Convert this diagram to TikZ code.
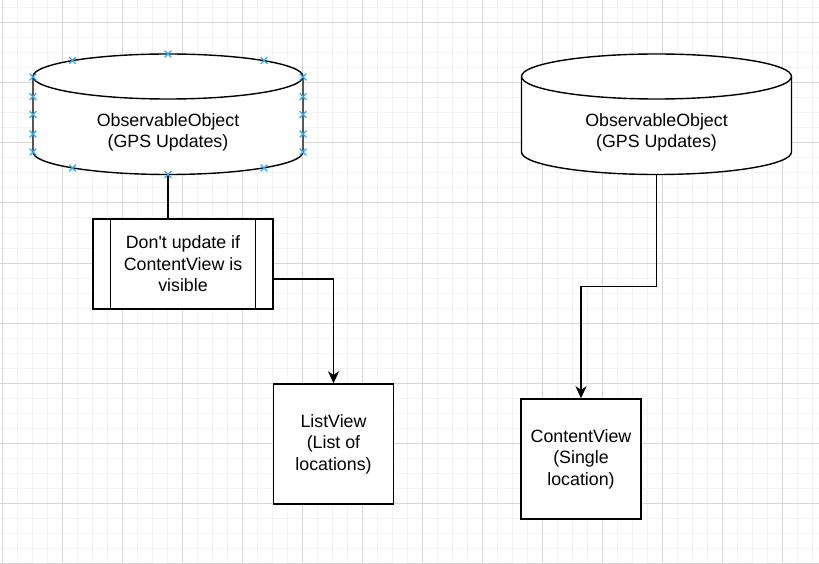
\documentclass[tikz,border=0pt]{standalone}
\usepackage{fontspec}
\setmainfont{Liberation Sans}[Ligatures=TeXOff]
\usetikzlibrary{arrows.meta,calc}
\definecolor{gridminor}{RGB}{243,243,243}
\definecolor{gridmajor}{RGB}{214,214,214}
\definecolor{markblue}{RGB}{45,170,240}
\tikzset{
  line/.style={line width=1.4pt, draw=black},
  arrowline/.style={line, -{Stealth[length=12pt, width=11pt, inset=3.5pt]}},
  lbl/.style={align=center, font=\fontsize{17.8}{21}\selectfont, inner sep=0pt},
  box/.style={line, fill=white, rectangle, minimum width=#1, minimum height=#1, align=center, font=\fontsize{17.8}{21.5}\selectfont, inner sep=0pt},
  procbox/.style={line, fill=white, rectangle, minimum width=180, minimum height=90, align=center, font=\fontsize{17.8}{21.5}\selectfont, inner sep=0pt},
  mk/.style={draw=markblue, line width=1.3pt},
  dbcyl/.pic={
    \draw[line, fill=white] (-135,0) -- (-135,75.5)
      .. controls (-135,87.93) and (-74.56,98) .. (0,98)
      .. controls (74.56,98) and (135,87.93) .. (135,75.5)
      -- (135,0)
      .. controls (135,-12.43) and (74.56,-22.5) .. (0,-22.5)
      .. controls (-74.56,-22.5) and (-135,-12.43) .. (-135,0) -- cycle;
    \draw[line] (-135,0) .. controls (-135,12.43) and (-74.56,22.5) .. (0,22.5)
      .. controls (74.56,22.5) and (135,12.43) .. (135,0);
  }
}
\newcommand{\xmark}[2]{\draw[mk] (#1-3.3,#2-3.3) -- (#1+3.3,#2+3.3) (#1-3.3,#2+3.3) -- (#1+3.3,#2-3.3);}
\begin{document}
\begin{tikzpicture}[x=1pt, y=-1pt]
\useasboundingbox (0,0) rectangle (819,564);
\fill[white] (0,0) rectangle (819,564);
% grid
\foreach \i in {0,...,54} { \draw[gridminor, line width=1pt] ({2+15*\i},0) -- ({2+15*\i},564); }
\foreach \j in {0,...,37} { \draw[gridminor, line width=1pt] (0,{8+15*\j}) -- (819,{8+15*\j}); }
\foreach \i in {0,...,13} { \draw[gridmajor, line width=1pt] ({2+60*\i},0) -- ({2+60*\i},564); }
\foreach \j in {0,...,9} { \draw[gridmajor, line width=1pt] (0,{23+60*\j}) -- (819,{23+60*\j}); }

% cylinders
\pic at (168,76.5) {dbcyl};
\pic at (656.5,76.5) {dbcyl};
\node[lbl] (obsL) at (168,132.5) {ObservableObject\\(GPS Updates)};
\node[lbl] (obsR) at (656.5,132.5) {ObservableObject\\(GPS Updates)};
\coordinate (obsLb) at (168,174.5);
\coordinate (obsRb) at (656.5,174.5);

% boxes
\node[procbox] (proc) at (183,264) {Don't update if\\ContentView is\\visible};
\draw[line] ([xshift=18pt]proc.north west) -- ([xshift=18pt]proc.south west);
\draw[line] ([xshift=-18pt]proc.north east) -- ([xshift=-18pt]proc.south east);
\node[box=120] (list) at (333.5,444) {ListView\\(List of\\locations)};
\node[box=120] (content) at (581,459) {ContentView\\(Single\\location)};

% connectors
\draw[line] (obsLb) -- (obsLb |- proc.north);
\draw[arrowline] ([yshift=-15pt]proc.east) -| (list.north);
\coordinate (m) at ($(obsRb)!0.5!(content.north)$);
\draw[arrowline] (obsRb) -- (obsRb |- m) -- (content.north |- m) -- (content.north);

% selection markers
\xmark{168}{54}\xmark{72.5}{60.5}\xmark{264}{60.5}
\xmark{72.5}{168}\xmark{168}{174.5}\xmark{264}{168}
\foreach \yy in {77,96.7,114.5,134,152} { \xmark{33}{\yy}\xmark{303}{\yy} }
\end{tikzpicture}
\end{document}
